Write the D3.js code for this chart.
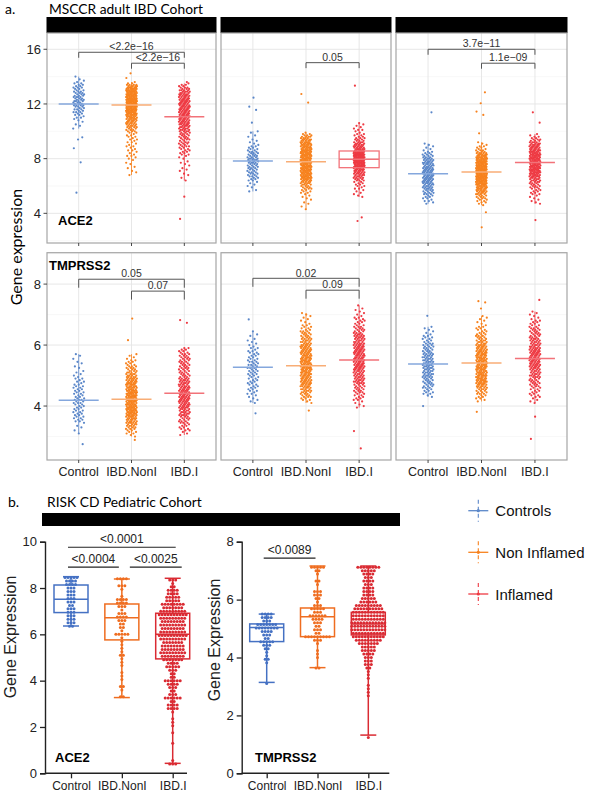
<!DOCTYPE html>
<html><head><meta charset="utf-8">
<script src="https://cdn.jsdelivr.net/npm/d3@7"></script>
<style>body{margin:0;background:#fff}svg{display:block}</style>
</head><body>
<script>
// ---------------- DATA ----------------
const cats = ["Control", "IBD.NonI", "IBD.I"];
const legendNames = ["Controls", "Non Inflamed", "Inflamed"];

// Section a: MSCCR adult cohort. Each group = count of samples per value bin (bin start lo, step),
// plus individual outlying values.
const stepRow1 = 0.1, stepRow2 = 0.05;
const ticksRow1 = [4, 8, 12, 16], ticksRow2 = [4, 6, 8];

// row 1, col 1 (ACE2)
const r1c1Lo = [10.2, 6.8, 6.4];
const r1c1Counts = [
  [1,0,1,1,0,1,1,1, 2,1,2,2,3,2, 3,2,3,4,3,3,4,3,3,4,3,3,3, 3,2,2,3,2,2, 2,1,1,1,0,1],
  [1,0,1,1,0,1,1,0,1,1,0,1, 1,1,2,1,1,1,2,1,1,2,1,1,2,1,2,1,2,2,1,2, 3,3,3,4,4,4, 5,5,5,6,6,6,7,7,7, 8,8,8,8,9,9,9,9,9,9,9,9,8,8,8,8, 7,6,5,4,2,1],
  [1,0,1,0,1,1,0,1,1,1,0,1,1,1,1,0,1,1,1,2, 2,2,2,2,2,3,2,3,3,2,3,3,3,3,3,3, 4,4,4,4,4,5,5,5,5,5,5,5,5,5,5,5,5,5,5,5, 5,5,5,5,5,5,5,5,4,4,4, 3,3,2,2,1]
];
const r1c1Extra = [[9.56, 9.4, 8.76, 7.73, 5.51], [14.24, 13.9], [5.22, 3.59, 13.6]];
const r1c1Median = [12.0, 11.93, 11.07];

// row 1, col 2
const r1c2Lo = [5.6, 4.3, 5.2];
const r1c2Counts = [
  [1,1,0,1,1,1,1,1, 2,2,2,3,2,3,3,2,3,3,3, 3,3,4,3,4,4,3,3,3,3,3,2,2,2,2, 1,1,1,1,1,0,1,1,0,1,1],
  [1,0,1,0,1,1,0,1,1,1,1,1,2, 2,2,3,3,3,4,4,5,5, 6,7,7,7,7,7,7,7,7,7,7,7,7,7,7,7,7,7,7,7,7,7,6,6,6,6, 6,6,5,5,4,4,3,2,1],
  [1,1,1,1,1,1,2,1,2,2,2,2, 3,3,4,4,4,5,5,5,6,6, 9,10,10,10,11,11,10,10,10,10,9,9, 6,6,5,5,5,4,4,3,3,3,2, 2,2,1,1,2,1,1,1,1,1]
];
const r1c2Extra = [[12.46, 11.8, 11.56, 10.63], [12.73, 12.1], [13.34, 3.7, 3.44]];
const r1c2Median = [7.83, 7.78, 7.95];
const r1c2BoxI = [7.34, 7.95, 8.56];

// row 1, col 3
const r1c3Lo = [4.7, 4.6, 4.7];
const r1c3Counts = [
  [1,1,2,1,2,2,2,3,3, 3,3,4,4,4,4,5,5,5,5, 5,5,5,5,5,5,5,5,4,4, 5,5,4,4,4,3,3,3,2, 2,1,1,1,1,1,1],
  [1,1,2,2,2,3,3,3,4, 4,5,5,6,6,7,7,8,8,9, 9,9,9,9,9,9,9,9,9,9,9, 9,9,8,8,7,7,6,5,5, 3,3,2,2,2,1,1,1],
  [1,1,1,1,1,1,1,2,2,2, 2,2,3,3,3,3,4,4,4,4, 6,6,6,7,7,7,7,7,7,7,7, 7,7,7,7,7,7,6,6,6,5,5, 5,5,4,4,3,3,2,2,1,1]
];
const r1c3Extra = [[11.39], [12.85, 12.05, 11.44, 11.2, 9.85, 4.08, 2.98], [11.39, 10.63, 3.51]];
const r1c3Median = [6.9, 7.03, 7.71];

// row 2, col 1 (TMPRSS2)
const r2c1Lo = [3.10, 3.00, 3.05];
const r2c1Counts = [
  [1,0,1,0,1,1,0,1, 2,2,2,2,2,2,2,2,2,2, 2,2,3,2,3,2,2,2,2,2, 2,2,2,2,2,1,2,1,2,1, 1,1,1,1,0,1,1,0,1,1,0,1,0,1,1],
  [1,1,2,2,2,3,3, 4,4,5,5,5,6,6,6, 6,7,7,7,7,7,7,7,7,7, 7,7,7,7,7,7,6,6,6,6, 6,5,5,5,5,4,4,4,3,3, 3,3,2,2,2,2,1,1,1,1],
  [1,1,1,2,2,2,2,2,3,3, 3,3,3,4,4,4,4,4,5,5, 5,5,5,5,5,5,5,5,5,5, 5,5,5,4,4,4,4,4,3,3, 3,3,3,3,3,3,3,3,3,3, 3,3,3,3,2,2,2,2]
];
const r2c1Extra = [[2.75], [6.87, 6.16, 2.89], [6.82, 6.73]];
const r2c1Median = [4.19, 4.22, 4.42];

// row 2, col 2
const r2c2Lo = [4.10, 4.10, 3.95];
const r2c2Counts = [
  [1,1,1,1,1,1,2,1, 2,2,2,2,2,2,2,2,2,2, 2,3,2,3,2,3,2,3,2,3, 2,2,2,2,2,2,2,1,2,1, 1,1,1,1,1,0,1,1,0,1],
  [1,1,2,2,3,3,3,4, 4,4,4,5,5,5,5,5,5,5, 5,6,6,6,6,6,6,6,6,6, 6,6,6,6,5,5,5,5,5,5, 5,4,4,4,4,3,3,3,3,3, 2,2,2,2,1,1,1,1,1,1,1,1],
  [1,1,1,1,1,2,2,2,2,2,3, 3,3,3,3,3,4,4,4,4,4, 4,4,4,5,5,5,5,5,5,5, 5,5,5,5,5,5,5,5,5,5, 5,5,4,4,4,4,4,4,3,3, 3,3,3,2,2,2,2,2,2,1, 1,1,1,1,1,0,1]
];
const r2c2Extra = [[6.84, 3.76], [3.85], [3.18, 2.61]];
const r2c2Median = [5.27, 5.32, 5.51];

// row 2, col 3
const r2c3Lo = [4.30, 4.15, 4.10];
const r2c3Counts = [
  [1,1,2,2,2,2,3, 3,3,3,3,3,3,4,4,4,4, 4,4,4,4,4,4,4,4,4,4, 4,4,3,3,3,3,3,3,3,2, 2,2,2,2,1,1,1,1,1,1],
  [1,1,2,2,2,3,3,3, 4,4,5,5,5,6,6,6,6,6, 6,6,6,6,6,6,6,6,6,6, 6,6,6,6,5,5,5,5,5,5, 4,4,4,3,3,3,3,2,2,2, 2,2,1,1,1,1,1,1,1],
  [1,1,1,1,2,2,2,2,2,2, 2,3,3,3,3,3,3,4,4,4, 4,4,4,4,5,5,5,5,5,5, 5,5,5,5,5,5,5,4,4,4, 4,4,4,3,3,3,3,3,3,3, 2,2,2,2,2,1,1,1,1,1,1]
];
const r2c3Extra = [[6.96, 4.0], [7.44, 7.40, 7.2, 3.81], [7.48, 3.65, 2.92]];
const r2c3Median = [5.38, 5.41, 5.56];

// significance brackets (section a): [fromCat, toCat, value height, label]
const r1c1Sig = [[0, 2, 15.78, "<2.2e\u221216"], [1, 2, 14.98, "<2.2e\u221216"]];
const r1c2Sig = [[1, 2, 15.02, "0.05"]];
const r1c3Sig = [[0, 2, 16.0, "3.7e\u221211"], [1, 2, 14.98, "1.1e\u221209"]];
const r2c1Sig = [[0, 2, 8.16, "0.05"], [1, 2, 7.77, "0.07"]];
const r2c2Sig = [[0, 2, 8.19, "0.02"], [1, 2, 7.80, "0.09"]];
const r2c3Sig = [];

// Section b: RISK CD pediatric cohort, swarm rows (count per row bin) + box stats [min,q1,median,q3,max]
const ace2Step = 0.15, tmpStep = 0.12;
const ace2Lo = [6.35, 3.30, 0.40];
const ace2Counts = [
  [2,3,3,3,3,3,2,3,3,3,3,3,4,4,5],
  [2,0,1,2,0,1,1,1,0,1,1,1,2,1,1,1,1,1,5,1,2,2,3,4,3,1,3,4,4,1,0,1,3,0,4],
  [3,1,0,0,0,0,1,0,0,1,0,1,1,1,0,1,4,4,2,6,3,2,3,4,6,2,2,3,5,4,7,8,9,8,8,7,9,10,9,8,9,8,9,10,9,7,8,5,5,4,4,2,1,3]
];
const ace2Box = [[6.36, 6.94, 7.52, 8.13, 8.49], [3.27, 5.76, 6.72, 7.31, 8.39], [0.43, 4.94, 6.0, 6.91, 8.42]];
const tmpLo = [3.10, 3.64, 1.24];
const tmpCounts = [
  [1,0,0,0,0,0,1,2,1,1,2,3,5,2,3,4,8,7,3,4,4],
  [2,0,0,1,1,1,0,1,3,9,2,3,2,3,4,6,3,5,3,1,2,3,3,0,1,2,0,1,2,5],
  [1,0,0,0,0,0,0,0,0,0,0,0,1,1,1,1,0,1,1,1,2,3,3,3,4,5,5,7,9,11,11,12,12,12,11,11,11,10,9,6,5,4,4,4,3,4,3,4,5,8]
];
const tmpBox = [[3.14, 4.55, 5.04, 5.16, 5.5], [3.65, 4.72, 5.41, 5.71, 7.16], [1.32, 4.78, 5.16, 5.56, 7.16]];
const ace2Sig = [[0, 2, 9.76, "<0.0001", -3, 3], [0, 1, 8.90, "<0.0004", -3, -3], [1, 2, 8.90, "<0.0025", 8, 9]];
const tmpSig = [[0, 1, 7.43, "<0.0089", -3, -2]];

// ---------------- STYLE ----------------
const colA = ["#5b87c9", "#f7821e", "#ee3a43"];
const colAMed = ["#84a7dd", "#f8ad76", "#f27279"];
const colB = ["#4571c3", "#ef6d20", "#da2b33"];
const fontSans = "'Liberation Sans', Arial, sans-serif";
const fontTitle = "Lato, 'Open Sans', sans-serif";

const svg = d3.select("body").append("svg").attr("width", 593).attr("height", 795);
const frac = v => v - Math.floor(v);

// ---------------- SECTION A ----------------
svg.append("text").attr("x", 5).attr("y", 14).attr("font-family", fontTitle).attr("font-size", 14).text("a.");
svg.append("text").attr("x", 49).attr("y", 14).attr("font-family", fontTitle).attr("font-size", 13.8).text("MSCCR adult IBD Cohort");

const colL = [47, 221, 396], colR = [216, 391, 567];
const rowDef = [
  {top: 33, bottom: 243, dom: [1.83, 17.19], major: ticksRow1, minor: [2, 6, 10, 14], step: stepRow1, drop: 5.5},
  {top: 252.7, bottom: 460, dom: [2.23, 9.03], major: ticksRow2, minor: [3, 5, 7, 9], step: stepRow2, drop: 8.5}
];
const panelsA = [
  {r: 0, c: 0, lo: r1c1Lo, counts: r1c1Counts, extra: r1c1Extra, med: r1c1Median, sig: r1c1Sig},
  {r: 0, c: 1, lo: r1c2Lo, counts: r1c2Counts, extra: r1c2Extra, med: r1c2Median, sig: r1c2Sig, box: r1c2BoxI},
  {r: 0, c: 2, lo: r1c3Lo, counts: r1c3Counts, extra: r1c3Extra, med: r1c3Median, sig: r1c3Sig},
  {r: 1, c: 0, lo: r2c1Lo, counts: r2c1Counts, extra: r2c1Extra, med: r2c1Median, sig: r2c1Sig},
  {r: 1, c: 1, lo: r2c2Lo, counts: r2c2Counts, extra: r2c2Extra, med: r2c2Median, sig: r2c2Sig},
  {r: 1, c: 2, lo: r2c3Lo, counts: r2c3Counts, extra: r2c3Extra, med: r2c3Median, sig: r2c3Sig}
];

// strips
colL.forEach((l, i) => {
  svg.append("rect").attr("x", l - 0.5).attr("y", 17).attr("width", colR[i] - l + 1).attr("height", 16).attr("fill", "#000");
});

panelsA.forEach((p, pi) => {
  const rd = rowDef[p.r];
  const L = colL[p.c], R = colR[p.c];
  const x = d3.scalePoint().domain(cats).range([L, R]).padding(0.6);
  const y = d3.scaleLinear().domain(rd.dom).range([rd.bottom, rd.top]);
  const g = svg.append("g");
  g.append("rect").attr("x", L).attr("y", rd.top).attr("width", R - L).attr("height", rd.bottom - rd.top).attr("fill", "#fff");
  rd.minor.forEach(t => g.append("line").attr("x1", L).attr("x2", R).attr("y1", y(t)).attr("y2", y(t)).attr("stroke", "#f3f3f3").attr("stroke-width", 0.6));
  rd.major.forEach(t => g.append("line").attr("x1", L).attr("x2", R).attr("y1", y(t)).attr("y2", y(t)).attr("stroke", "#e4e4e4").attr("stroke-width", 0.9));
  cats.forEach(cn => g.append("line").attr("x1", x(cn)).attr("x2", x(cn)).attr("y1", rd.top).attr("y2", rd.bottom).attr("stroke", "#e4e4e4").attr("stroke-width", 0.9));

  cats.forEach((cn, gi) => {
    const cx = x(cn);
    const vals = [];
    p.counts[gi].forEach((n, i) => { for (let j = 0; j < n; j++) vals.push(p.lo[gi] + i * rd.step); });
    const ext = d3.extent(vals);
    g.append("line").attr("x1", cx).attr("x2", cx).attr("y1", y(ext[0])).attr("y2", y(ext[1])).attr("stroke", colA[gi]).attr("stroke-width", 0.8);
    const all = vals.concat(p.extra[gi]);
    g.selectAll(null).data(all).enter().append("circle")
      .attr("cx", (d, k) => cx + 5.5 * (2 * frac(k * 0.6180339887 + gi * 0.31 + pi * 0.17) - 1))
      .attr("cy", d => y(d)).attr("r", 1.1).attr("fill", colA[gi]);
    g.append("line").attr("x1", cx - 20).attr("x2", cx + 20).attr("y1", y(p.med[gi])).attr("y2", y(p.med[gi]))
      .attr("stroke", colAMed[gi]).attr("stroke-width", 1.5);
    if (p.box && gi === 2) {
      g.append("rect").attr("x", cx - 20).attr("width", 40).attr("y", y(p.box[2])).attr("height", y(p.box[0]) - y(p.box[2]))
        .attr("fill", "none").attr("stroke", colAMed[gi]).attr("stroke-width", 1.3);
    }
  });

  p.sig.forEach(s => {
    const x1 = x(cats[s[0]]), x2 = x(cats[s[1]]), yy = y(s[2]);
    g.append("path").attr("d", `M${x1},${yy + rd.drop}V${yy}H${x2}V${yy + rd.drop}`).attr("fill", "none").attr("stroke", "#555").attr("stroke-width", 1);
    g.append("text").attr("x", (x1 + x2) / 2).attr("y", yy - 1.8).attr("text-anchor", "middle").attr("font-family", fontSans)
      .attr("font-size", 10.5).attr("fill", "#333").text(s[3]);
  });

  g.append("rect").attr("x", L).attr("y", rd.top).attr("width", R - L).attr("height", rd.bottom - rd.top).attr("fill", "none").attr("stroke", "#a6a6a6").attr("stroke-width", 1.2);
  cats.forEach(cn => g.append("line").attr("x1", x(cn)).attr("x2", x(cn)).attr("y1", rd.bottom).attr("y2", rd.bottom + 3).attr("stroke", "#333").attr("stroke-width", 0.9));
  if (p.r === 1) {
    cats.forEach(cn => g.append("text").attr("x", x(cn)).attr("y", 476).attr("text-anchor", "middle").attr("font-family", fontSans).attr("font-size", 12.5).attr("fill", "#222").text(cn));
  }
  if (p.c === 0) {
    rd.major.forEach(t => {
      g.append("line").attr("x1", L - 3.5).attr("x2", L).attr("y1", y(t)).attr("y2", y(t)).attr("stroke", "#333").attr("stroke-width", 0.9);
      g.append("text").attr("x", L - 6).attr("y", y(t) + 4.6).attr("text-anchor", "end").attr("font-family", fontSans).attr("font-size", 13).attr("fill", "#222").text(t);
    });
  }
});

svg.append("text").attr("x", 58).attr("y", 225).attr("font-family", fontSans).attr("font-weight", "bold").attr("font-size", 13).text("ACE2");
svg.append("text").attr("x", 49).attr("y", 270).attr("font-family", fontSans).attr("font-weight", "bold").attr("font-size", 13).text("TMPRSS2");
svg.append("text").attr("transform", "translate(15,247) rotate(-90)").attr("text-anchor", "middle").attr("dominant-baseline", "central")
  .attr("font-family", fontTitle).attr("font-size", 16).text("Gene expression");

// ---------------- SECTION B ----------------
svg.append("text").attr("x", 8).attr("y", 507).attr("font-family", fontTitle).attr("font-size", 14).text("b.");
svg.append("text").attr("x", 47).attr("y", 507).attr("font-family", fontTitle).attr("font-size", 13.8).text("RISK CD Pediatric Cohort");
svg.append("rect").attr("x", 42).attr("y", 513).attr("width", 358).attr("height", 13).attr("fill", "#000");

const chartsB = [
  {axisX: 45, xEnd: 187, cats: [71, 172.7], dom: [0, 10], ticks: [0, 2, 4, 6, 8, 10], lo: ace2Lo, counts: ace2Counts, step: ace2Step, box: ace2Box, sig: ace2Sig, name: "ACE2", nameX: 55, labX: 10},
  {axisX: 241.7, xEnd: 389.3, cats: [266.7, 368.3], dom: [0, 8], ticks: [0, 2, 4, 6, 8], lo: tmpLo, counts: tmpCounts, step: tmpStep, box: tmpBox, sig: tmpSig, name: "TMPRSS2", nameX: 255, labX: 214}
];
chartsB.forEach(ch => {
  const x = d3.scalePoint().domain(cats).range(ch.cats);
  const y = d3.scaleLinear().domain(ch.dom).range([773.3, 541.7]);
  const g = svg.append("g");
  const yAxis = d3.axisLeft(y).tickValues(ch.ticks).tickSize(5).tickPadding(3);
  const ga = g.append("g").attr("transform", `translate(${ch.axisX},0)`).call(yAxis);
  ga.select(".domain").attr("stroke", "#222").attr("stroke-width", 1.4);
  ga.selectAll(".tick line").attr("stroke", "#222").attr("stroke-width", 1.3);
  ga.selectAll(".tick text").attr("font-family", fontSans).attr("font-size", 13).attr("fill", "#222");
  const xa = g.append("g").attr("transform", "translate(0,773.3)").call(d3.axisBottom(x).tickSize(5).tickPadding(3));
  xa.select(".domain").remove();
  g.append("line").attr("x1", ch.axisX).attr("x2", ch.xEnd).attr("y1", 773.3).attr("y2", 773.3).attr("stroke", "#222").attr("stroke-width", 1.4);
  xa.selectAll(".tick line").attr("stroke", "#222").attr("stroke-width", 1.3);
  xa.selectAll(".tick text").attr("font-family", fontSans).attr("font-size", 12).attr("fill", "#222");

  cats.forEach((cn, gi) => {
    const cx = x(cn);
    const pts = [];
    ch.counts[gi].forEach((n, i) => {
      const v = ch.lo[gi] + i * ch.step;
      for (let j = 0; j < n; j++) pts.push([cx + (j - (n - 1) / 2) * 3.0, v]);
    });
    g.selectAll(null).data(pts).enter().append("circle").attr("cx", d => d[0]).attr("cy", d => y(d[1])).attr("r", 1.5).attr("fill", colB[gi]);
    const b = ch.box[gi];
    const st = colB[gi];
    g.append("rect").attr("x", cx - 17).attr("width", 34).attr("y", y(b[3])).attr("height", y(b[1]) - y(b[3])).attr("fill", "none").attr("stroke", st).attr("stroke-width", 1.5);
    g.append("line").attr("x1", cx - 17).attr("x2", cx + 17).attr("y1", y(b[2])).attr("y2", y(b[2])).attr("stroke", st).attr("stroke-width", 1.5);
    g.append("line").attr("x1", cx).attr("x2", cx).attr("y1", y(b[3])).attr("y2", y(b[4])).attr("stroke", st).attr("stroke-width", 1.5);
    g.append("line").attr("x1", cx).attr("x2", cx).attr("y1", y(b[1])).attr("y2", y(b[0])).attr("stroke", st).attr("stroke-width", 1.5);
    [b[0], b[4]].forEach(v => g.append("line").attr("x1", cx - 8).attr("x2", cx + 8).attr("y1", y(v)).attr("y2", y(v)).attr("stroke", st).attr("stroke-width", 1.5));
  });

  ch.sig.forEach(s => {
    const x1 = x(cats[s[0]]) + s[4], x2 = x(cats[s[1]]) + s[5], yy = y(s[2]);
    g.append("line").attr("x1", x1).attr("x2", x2).attr("y1", yy).attr("y2", yy).attr("stroke", "#222").attr("stroke-width", 1.2);
    g.append("text").attr("x", (x1 + x2) / 2).attr("y", yy - 4).attr("text-anchor", "middle").attr("font-family", fontSans).attr("font-size", 12).attr("fill", "#222").text(s[3]);
  });

  g.append("text").attr("x", ch.nameX).attr("y", 762).attr("font-family", fontSans).attr("font-weight", "bold").attr("font-size", 13).text(ch.name);
  g.append("text").attr("transform", `translate(${ch.labX},${ch.labX < 100 ? 637 : 640}) rotate(-90)`).attr("text-anchor", "middle").attr("dominant-baseline", "central")
    .attr("font-family", fontSans).attr("font-size", 16).attr("fill", "#222").text("Gene Expression");
});

// legend
const legY = [510.7, 552.3, 594];
legendNames.forEach((nm, i) => {
  const g = svg.append("g").attr("transform", `translate(478.3,${legY[i]})`);
  g.append("line").attr("x1", -10).attr("x2", 10).attr("stroke", colA[i]).attr("stroke-width", 1.3);
  g.append("line").attr("y1", -11).attr("y2", 11).attr("stroke", colA[i]).attr("stroke-width", 1.1).attr("stroke-dasharray", "4,3");
  g.append("circle").attr("r", 1.6).attr("fill", colA[i]);
  g.append("text").attr("x", 17).attr("y", 0).attr("dominant-baseline", "central").attr("font-family", fontSans).attr("font-size", 15).attr("fill", "#111").text(nm);
});
</script>
</body></html>
